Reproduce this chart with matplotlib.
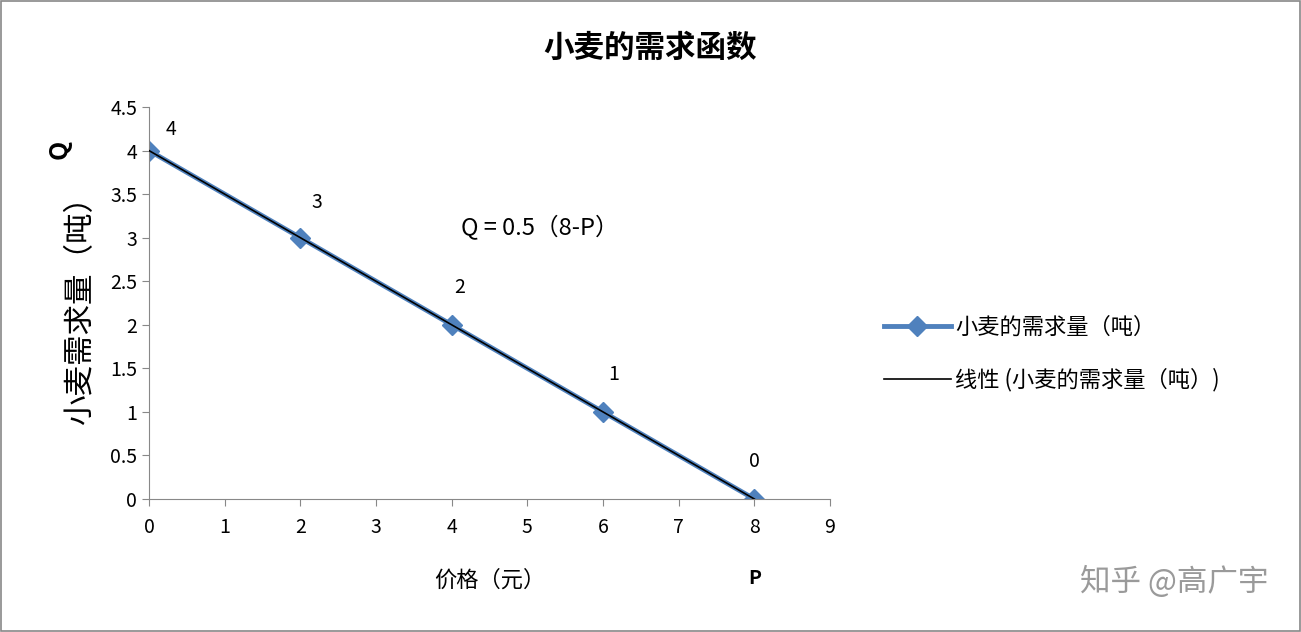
import matplotlib.pyplot as plt
from matplotlib.patches import Rectangle

plt.rcParams['font.family'] = ['Noto Sans CJK SC', 'DejaVu Sans']

price = [0, 2, 4, 6, 8]
quantity = [4, 3, 2, 1, 0]
point_labels = ["4", "3", "2", "1", "0"]
trend_x = [0, 8]
trend_y = [4, 0]
# label offsets in points (Excel-style placement)
label_offsets = [(16, 15), (12, 25), (6, 27), (8, 27), (0, 27)]

fig = plt.figure(figsize=(13.01, 6.32), dpi=100)
fig.patches.append(Rectangle((0.001, 0.002), 0.998, 0.996, transform=fig.transFigure,
                             fill=False, edgecolor="#888888", linewidth=1.2))
ax = fig.add_axes([0.1145, 0.2104, 0.5235, 0.6203])

ax.plot(price, quantity, color="#4F81BD", lw=3.5, marker="D", ms=10,
        mec="#4F81BD", label="小麦的需求量（吨）", zorder=2)
ax.plot(trend_x, trend_y, color="black", lw=1.2, label="线性 (小麦的需求量（吨）)", zorder=3)
for x, y, t, off in zip(price, quantity, point_labels, label_offsets):
    ax.annotate(t, (x, y), textcoords="offset points", xytext=off,
                ha="center", va="center", fontsize=14)

ax.set_xlim(0, 9)
ax.set_ylim(0, 4.5)
ax.set_xticks(range(10))
ax.set_yticks([0, 0.5, 1, 1.5, 2, 2.5, 3, 3.5, 4, 4.5])
ax.set_yticklabels(["0", "0.5", "1", "1.5", "2", "2.5", "3", "3.5", "4", "4.5"])
ax.tick_params(labelsize=14, direction="out", length=5, color="#888888")
ax.tick_params(axis="x", pad=8)
for s in ["top", "right"]:
    ax.spines[s].set_visible(False)
for s in ["left", "bottom"]:
    ax.spines[s].set_color("#888888")

ax.set_xlabel("价格（元）", fontsize=16, labelpad=22)
ax.set_ylabel("小麦需求量（吨）", fontsize=22, labelpad=10)
fig.text(0.58, 0.085, "P", fontsize=14, fontweight="bold", ha="center", va="center")
fig.text(0.046, 0.763, "Q", fontsize=18, fontweight="bold", rotation=90, ha="center", va="center")
ax.text(5.17, 3.11, "Q = 0.5（8-P）", fontsize=17, ha="center", va="center")

fig.text(0.5, 0.925, "小麦的需求函数", fontsize=22, fontweight="bold", ha="center", va="center")

ax.legend(loc="center left", bbox_to_anchor=(1.05, 0.37), frameon=False, fontsize=16,
          handlelength=3, handletextpad=0.2, labelspacing=1.3)

fig.text(0.975, 0.08, "知乎 @高广宇", fontsize=22, color="#9a9a9a", ha="right", va="center")

fig.savefig("out.png", dpi=100)
